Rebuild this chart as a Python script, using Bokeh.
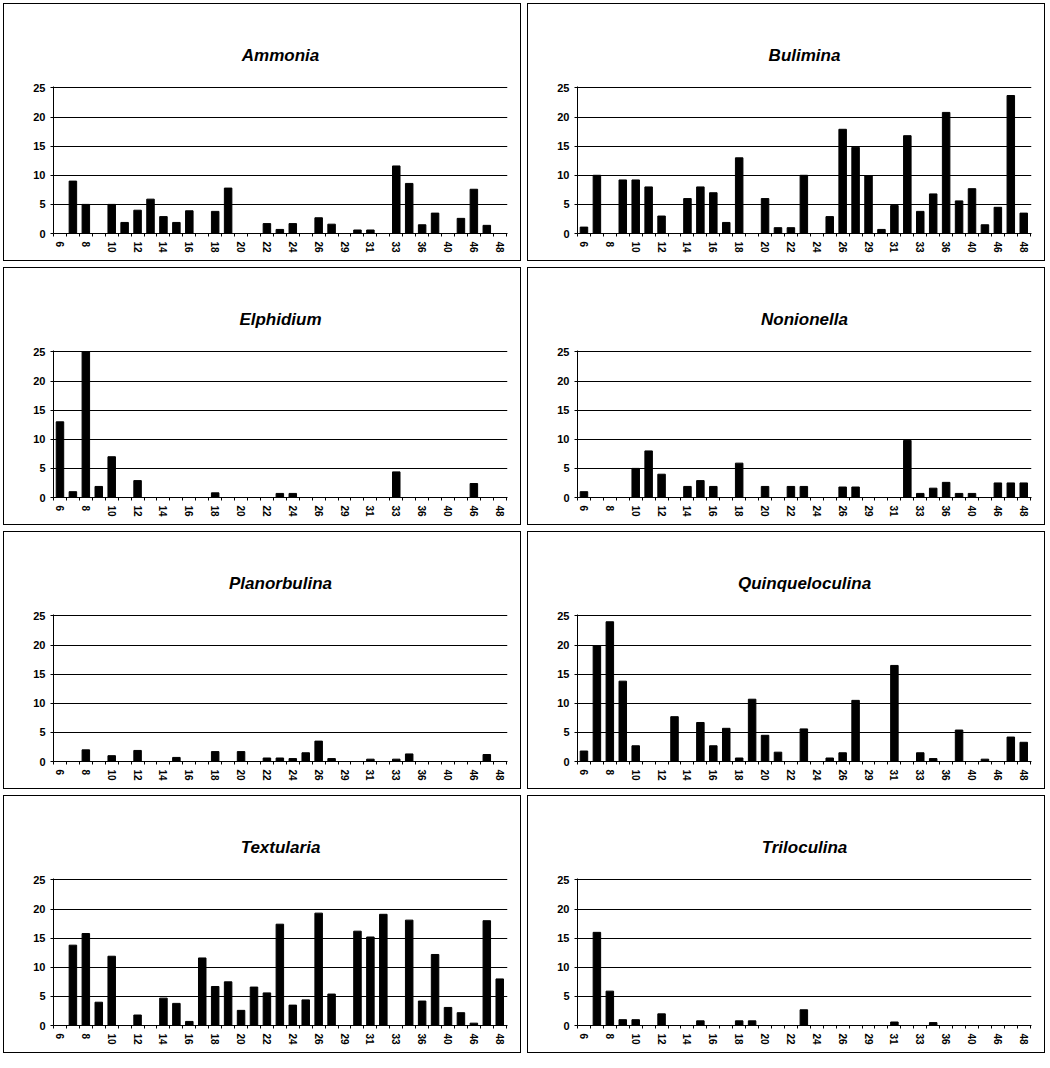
from bokeh.plotting import figure
from bokeh.layouts import gridplot
from bokeh.models import Range1d, FixedTicker, ColumnDataSource
from bokeh.embed import file_html
from bokeh.resources import INLINE

# ---- data -------------------------------------------------------------
# 35 sampling stations; only every other station is labelled on the axis
tick_labels = ["6", "8", "10", "12", "14", "16", "18", "20", "22", "24",
               "26", "29", "31", "33", "36", "40", "46", "48"]

genera = ["Ammonia", "Bulimina", "Elphidium", "Nonionella",
          "Planorbulina", "Quinqueloculina", "Textularia", "Triloculina"]

ammonia = [0, 9, 5, 0, 5, 1.9, 4, 5.9, 2.9, 1.9, 3.9, 0, 3.8, 7.8, 0, 0, 1.7, 0.7,
           1.7, 0, 2.7, 1.6, 0, 0.6, 0.6, 0, 11.6, 8.6, 1.5, 3.5, 0, 2.6, 7.6, 1.4, 0]
bulimina = [1.1, 10, 0, 9.2, 9.2, 8, 3, 0, 6, 8, 7, 1.9, 13, 0, 6, 1, 1, 10,
            0, 2.9, 17.9, 14.8, 9.9, 0.7, 4.8, 16.8, 3.8, 6.8, 20.8, 5.6, 7.7, 1.5, 4.5, 23.7, 3.5]
elphidium = [13, 1, 25, 1.9, 7, 0, 2.9, 0, 0, 0, 0, 0, 0.8, 0, 0, 0, 0, 0.7,
             0.7, 0, 0, 0, 0, 0, 0, 0, 4.4, 0, 0, 0, 0, 0, 2.4, 0, 0]
nonionella = [1, 0, 0, 0, 5, 8, 4, 0, 1.9, 2.9, 1.9, 0, 5.9, 0, 1.9, 0, 1.9, 1.9,
              0, 0, 1.8, 1.8, 0, 0, 0, 9.8, 0.7, 1.6, 2.6, 0.7, 0.7, 0, 2.5, 2.5, 2.5]
planorbulina = [0, 0, 2, 0, 1, 0, 1.9, 0, 0, 0.7, 0, 0, 1.7, 0, 1.7, 0, 0.6, 0.6,
                0.5, 1.5, 3.5, 0.5, 0, 0, 0.4, 0, 0.4, 1.3, 0, 0, 0, 0, 0, 1.2, 0]
quinqueloculina = [1.8, 19.9, 24, 13.8, 2.7, 0, 0, 7.7, 0, 6.7, 2.7, 5.7, 0.6, 10.7, 4.5, 1.6, 0, 5.6,
                   0, 0.6, 1.5, 10.5, 0, 0, 16.5, 0, 1.5, 0.5, 0, 5.4, 0, 0.4, 0, 4.2, 3.3]
textularia = [0, 13.8, 15.8, 4, 11.9, 0, 1.8, 0, 4.7, 3.8, 0.7, 11.6, 6.7, 7.5, 2.6, 6.6, 5.6, 17.4,
              3.5, 4.4, 19.3, 5.4, 0, 16.2, 15.2, 19.1, 0, 18.1, 4.2, 12.2, 3.1, 2.2, 0.4, 18, 8]
triloculina = [0, 16, 5.9, 1, 1, 0, 2, 0, 0, 0.8, 0, 0, 0.8, 0.8, 0, 0, 0, 2.7,
               0, 0, 0, 0, 0, 0, 0.6, 0, 0, 0.5, 0, 0, 0, 0, 0, 0, 0]

series = [ammonia, bulimina, elphidium, nonionella,
          planorbulina, quinqueloculina, textularia, triloculina]

y_ticks = [0, 5, 10, 15, 20, 25]

# ---- layout constants -------------------------------------------------
W, H = 524, 264
FONT = "Liberation Sans"

n = len(ammonia)
positions = list(range(n))
label_pos = list(range(0, n, 2))
overrides = {pos: lab for pos, lab in zip(label_pos, tick_labels)}
minor = [i - 0.5 for i in range(n + 1)]


def make_panel(name, vals):
    p = figure(width=W, height=H, output_backend="svg", toolbar_location=None,
               x_range=Range1d(-0.5, 34.6), y_range=Range1d(0, 25.25),
               min_border_left=53, min_border_right=17,
               min_border_top=86, min_border_bottom=31,
               background_fill_color="white", border_fill_color=None,
               styles={"outline": "1.5px solid black", "outline-offset": "-4px"})
    p.outline_line_color = None
    p.title.text = name
    p.title.align = "center"
    p.title.text_font = FONT
    p.title.text_font_style = "bold italic"
    p.title.text_font_size = "17px"
    p.title.text_color = "black"
    p.title.standoff = 43

    src = ColumnDataSource(dict(x=positions, top=vals))
    p.vbar(x="x", top="top", width=0.58, source=src,
           fill_color="black", line_color="black")

    # axes
    p.xgrid.visible = False
    p.ygrid.grid_line_color = "black"
    p.ygrid.grid_line_width = 1.2
    p.ygrid.ticker = FixedTicker(ticks=[5, 10, 15, 20, 25])

    p.yaxis.ticker = FixedTicker(ticks=y_ticks)
    p.yaxis.axis_line_color = "black"
    p.yaxis.major_tick_in = 0
    p.yaxis.major_tick_out = 3
    p.yaxis.minor_tick_line_color = None
    p.yaxis.major_label_text_font = FONT
    p.yaxis.major_label_text_font_style = "bold"
    p.yaxis.major_label_text_font_size = "11px"
    p.yaxis.major_label_text_color = "black"
    p.yaxis.major_label_standoff = 5

    p.xaxis.ticker = FixedTicker(ticks=label_pos, minor_ticks=minor)
    p.xaxis.major_label_overrides = overrides
    p.xaxis.axis_line_color = "black"
    p.xaxis.axis_line_width = 1.2
    p.xaxis.major_tick_in = 0
    p.xaxis.major_tick_out = 0
    p.xaxis.minor_tick_in = 0
    p.xaxis.minor_tick_out = 3
    p.xaxis.minor_tick_line_color = "black"
    p.xaxis.major_label_orientation = "vertical"
    p.xaxis.major_label_text_font = FONT
    p.xaxis.major_label_text_font_style = "bold"
    p.xaxis.major_label_text_font_size = "10px"
    p.xaxis.major_label_text_color = "black"
    p.xaxis.major_label_standoff = 5
    return p


panels = [make_panel(g, s) for g, s in zip(genera, series)]
grid = gridplot([[panels[0], panels[1]], [panels[2], panels[3]],
                 [panels[4], panels[5]], [panels[6], panels[7]]],
                toolbar_location=None)

open("out.html", "w").write(file_html(grid, INLINE))
